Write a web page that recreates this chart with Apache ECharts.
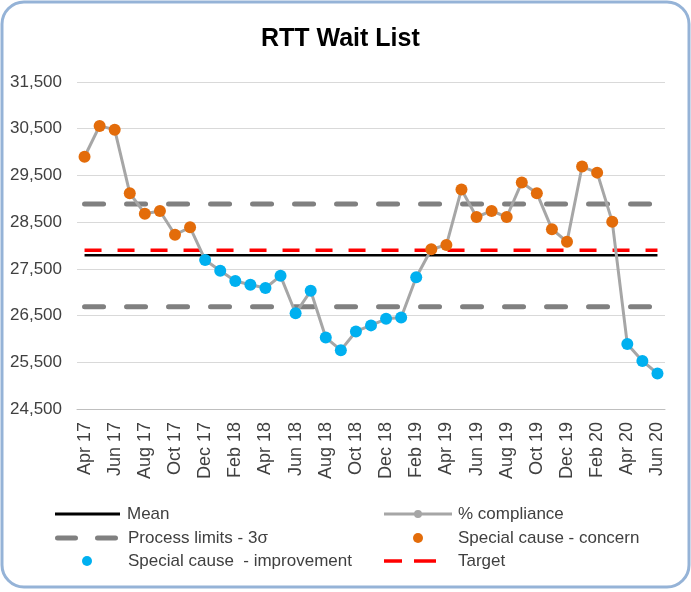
<!doctype html>
<html>
<head>
<meta charset="utf-8">
<style>
  html, body { margin: 0; padding: 0; background: #fff; }
  #main { width: 691px; height: 592px; }
</style>
</head>
<body>
<div id="main"></div>
<script src="https://cdn.jsdelivr.net/npm/echarts@6/dist/echarts.min.js"></script>
<script>
// monthly categories, Apr 17 - Jun 20
var months = ['Apr 17','May 17','Jun 17','Jul 17','Aug 17','Sep 17','Oct 17','Nov 17','Dec 17',
  'Jan 18','Feb 18','Mar 18','Apr 18','May 18','Jun 18','Jul 18','Aug 18','Sep 18','Oct 18','Nov 18','Dec 18',
  'Jan 19','Feb 19','Mar 19','Apr 19','May 19','Jun 19','Jul 19','Aug 19','Sep 19','Oct 19','Nov 19','Dec 19',
  'Jan 20','Feb 20','Mar 20','Apr 20','May 20','Jun 20'];

var waitList = [29900, 30560, 30480, 29120, 28680, 28740, 28230, 28390, 27690,
  27460, 27240, 27160, 27090, 27350, 26550, 27030, 26030, 25760, 26160, 26290, 26430,
  26460, 27320, 27920, 28010, 29200, 28610, 28740, 28610, 29350, 29120, 28350, 28080,
  29690, 29560, 28510, 25890, 25530, 25260];

// C = special cause concern, I = special cause improvement
var causeFlags = ['C','C','C','C','C','C','C','C','I',
  'I','I','I','I','I','I','I','I','I','I','I','I',
  'I','I','C','C','C','C','C','C','C','C','C','C',
  'C','C','C','I','I','I'];

var meanValue = 27790;
var upperLimit = 28890;
var lowerLimit = 26690;
var targetValue = 27900;

var yTicks = [24500, 25500, 26500, 27500, 28500, 29500, 30500, 31500];

var concernPts = [], improvePts = [];
for (var i = 0; i < waitList.length; i++) {
  if (causeFlags[i] == 'C') concernPts.push([i, waitList[i]]);
  else improvePts.push([i, waitList[i]]);
}
function flat(v) { return months.map(function () { return v; }); }

var txt = '#404040';
var font = 'Liberation Sans, Arial, sans-serif';
var legendFont = 17;

// one legend per entry so they can sit in two columns like the original
function oneLegend(name, icon, left, centerY, w, h, padLeft) {
  return {
    data: [{ name: name, icon: icon }], left: left, top: centerY - legendFont / 2, padding: 0,
    itemWidth: w, itemHeight: h, itemGap: 0,
    symbolKeepAspect: false,
    selectedMode: false,
    textStyle: { color: txt, fontSize: legendFont, fontFamily: font, padding: [0, 0, 0, padLeft || 0] }
  };
}

var dashGray = 'path://M2.5,0h18a2.5,2.5 0 0 1 0,5h-18a2.5,2.5 0 0 1 0,-5z M42.5,0h18a2.5,2.5 0 0 1 0,5h-18a2.5,2.5 0 0 1 0,-5z';
var dashRed = 'path://M0,0h18v3.5h-18z M30,0h22v3.5h-22z';
var lineDot = 'path://M0,2.5h68v3h-68z M30,4a4,4 0 1 1 8,0a4,4 0 1 1 -8,0z';

var myChart = echarts.init(document.getElementById('main'));

var option = {
  backgroundColor: '#fff',
  animation: false,
  title: {
    text: 'RTT Wait List', left: 256, top: 22,
    textStyle: { fontSize: 25, fontWeight: 'bold', color: '#000', fontFamily: font }
  },
  graphic: [{
    type: 'rect', silent: true,
    shape: { x: 2, y: 2, width: 687, height: 585, r: 22 },
    style: { fill: 'none', stroke: '#95B3D7', lineWidth: 3 }
  }],
  legend: [
    oneLegend('Mean', 'rect', 55, 514, 65, 3, 2),
    oneLegend('Process limits - 3σ', dashGray, 55, 538, 63, 5, 5),
    oneLegend('Special cause  - improvement', 'circle', 82, 561, 10, 10, 31),
    oneLegend('% compliance', lineDot, 384, 514, 68, 8, 1),
    oneLegend('Special cause - concern', 'circle', 413, 538, 10, 10, 30),
    oneLegend('Target', dashRed, 384, 561, 52, 3.5, 17)
  ],
  grid: { left: 77, right: 26, top: 82, bottom: 183 },
  xAxis: {
    type: 'category',
    data: months,
    boundaryGap: true,
    axisLine: { lineStyle: { color: '#BFBFBF', width: 1 } },
    axisTick: { show: false },
    axisLabel: { interval: 1, rotate: 90, margin: 13, color: txt, fontSize: 18, fontFamily: font }
  },
  yAxis: {
    type: 'value',
    min: yTicks[0], max: yTicks[yTicks.length - 1], interval: 1000,
    axisLine: { show: false },
    axisTick: { show: false },
    axisLabel: {
      margin: 15, color: txt, fontSize: 17, fontFamily: font,
      formatter: function (v) { return v.toLocaleString('en-US'); }
    },
    splitLine: { lineStyle: { color: '#D9D9D9', width: 1 } }
  },
  series: [
    {
      name: 'Process limits - 3σ', type: 'line', data: flat(upperLimit),
      symbol: 'none', silent: true, z: 2,
      lineStyle: { color: '#808080', width: 5, type: [19, 23], cap: 'round' },
      itemStyle: { color: '#808080' }
    },
    {
      name: 'Process limits - 3σ', type: 'line', data: flat(lowerLimit),
      symbol: 'none', silent: true, z: 2,
      lineStyle: { color: '#808080', width: 5, type: [19, 23], cap: 'round' },
      itemStyle: { color: '#808080' }
    },
    {
      name: 'Mean', type: 'line', data: flat(meanValue),
      symbol: 'none', silent: true, z: 3,
      lineStyle: { color: '#000', width: 2.5 },
      itemStyle: { color: '#000' }
    },
    {
      name: 'Target', type: 'line', data: flat(targetValue),
      symbol: 'none', silent: true, z: 3,
      lineStyle: { color: '#FF0000', width: 3.5, type: [17, 16] },
      itemStyle: { color: '#FF0000' }
    },
    {
      name: '% compliance', type: 'line', data: waitList,
      symbol: 'circle', symbolSize: 8, z: 4,
      lineStyle: { color: '#A6A6A6', width: 3 },
      itemStyle: { color: '#A6A6A6' }
    },
    {
      name: 'Special cause - concern', type: 'scatter', data: concernPts,
      symbolSize: 12, z: 5,
      itemStyle: { color: '#E36C0A', opacity: 1 }
    },
    {
      name: 'Special cause  - improvement', type: 'scatter', data: improvePts,
      symbolSize: 12, z: 5,
      itemStyle: { color: '#00B0F0', opacity: 1 }
    }
  ]
};

myChart.setOption(option);
</script>
</body>
</html>
